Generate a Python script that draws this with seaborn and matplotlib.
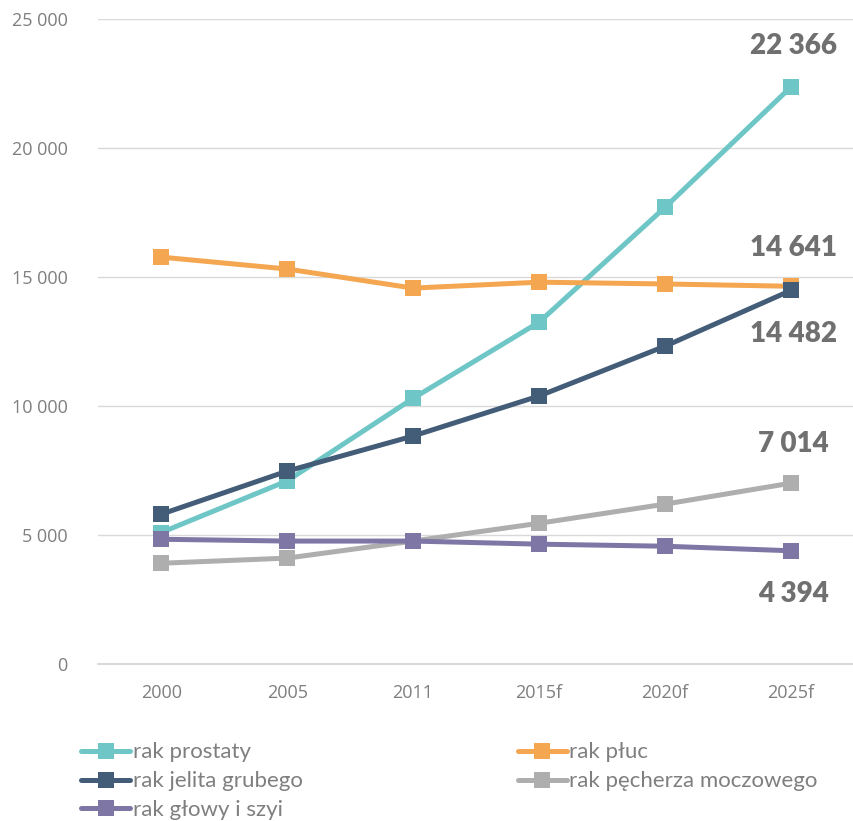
import pandas as pd
import matplotlib
matplotlib.use("Agg")
import matplotlib.pyplot as plt
import seaborn as sns
from matplotlib.ticker import FuncFormatter

# dane
lata = ["2000", "2005", "2011", "2015f", "2020f", "2025f"]
prostata = [5100, 7100, 10300, 13250, 17700, 22366]
pluca = [15770, 15310, 14570, 14800, 14730, 14641]
jelito = [5810, 7480, 8840, 10390, 12320, 14482]
pecherz = [3910, 4110, 4770, 5460, 6200, 7014]
glowa = [4840, 4770, 4770, 4650, 4570, 4394]

nazwy = ["rak prostaty", "rak płuc", "rak jelita grubego",
         "rak pęcherza moczowego", "rak głowy i szyi"]
serie = [prostata, pluca, jelito, pecherz, glowa]
kolory = ["#6FC6C6", "#F4A651", "#435D78", "#AEAEAE", "#7E76A4"]

df = pd.concat([pd.DataFrame({"rok": lata, "liczba": v, "typ": n})
                for n, v in zip(nazwy, serie)])

sns.set_style("white")
plt.rcParams["font.family"] = ["Open Sans", "DejaVu Sans"]

fig = plt.figure(figsize=(8.54, 8.21), dpi=100)
ax = fig.add_axes([0.115, 0.191, 0.885, 0.786])

for n, k in zip(nazwy, kolory):
    sns.lineplot(data=df[df["typ"] == n], x="rok", y="liczba", color=k,
                 marker="s", markersize=12, markeredgewidth=0, linewidth=3.6,
                 label=n, ax=ax, zorder=3)

ax.set_xlim(-0.5, 5.5)
ax.set_ylim(0, 25000)
ax.set_yticks(range(0, 25001, 5000))
ax.yaxis.set_major_formatter(FuncFormatter(lambda v, p: f"{v:,.0f}".replace(",", " ")))
ax.grid(axis="y", color="#D9D9D9", linewidth=1)
ax.axhline(0, color="#D9D9D9", linewidth=1.5, clip_on=False, zorder=1)
ax.set_axisbelow(True)
for s in ax.spines.values():
    s.set_visible(False)
ax.tick_params(axis="both", length=0, colors="#7F7F7F", labelsize=13)
ax.tick_params(axis="x", pad=14)
ax.tick_params(axis="y", pad=22)
ax.set_xlabel("")
ax.set_ylabel("")

# etykiety wartości końcowych
opis = dict(fontsize=20, fontweight="heavy", color="#707070",
            family=["Lato", "DejaVu Sans"], ha="center")
ax.annotate("22 366", (5, prostata[-1]), xytext=(2, 20), textcoords="offset points", va="bottom", **opis)
ax.annotate("14 641", (5, pluca[-1]), xytext=(2, 18), textcoords="offset points", va="bottom", **opis)
ax.annotate("14 482", (5, jelito[-1]), xytext=(2, -22), textcoords="offset points", va="top", **opis)
ax.annotate("7 014", (5, pecherz[-1]), xytext=(2, 19), textcoords="offset points", va="bottom", **opis)
ax.annotate("4 394", (5, glowa[-1]), xytext=(2, -22), textcoords="offset points", va="top", **opis)

# legenda
h, l = ax.get_legend_handles_labels()
ax.get_legend().remove()
kol = [0, 2, 4, 1, 3]
fig.legend([h[i] for i in kol], [l[i] for i in kol], ncol=2, loc="upper left",
           bbox_to_anchor=(0.072, 0.12), frameon=False, handlelength=2.2,
           handletextpad=0.1, columnspacing=9.7, labelspacing=0.4,
           prop={"family": ["Lato", "DejaVu Sans"], "size": 16},
           labelcolor="#7F7F7F")

fig.savefig("out.png", dpi=100)
